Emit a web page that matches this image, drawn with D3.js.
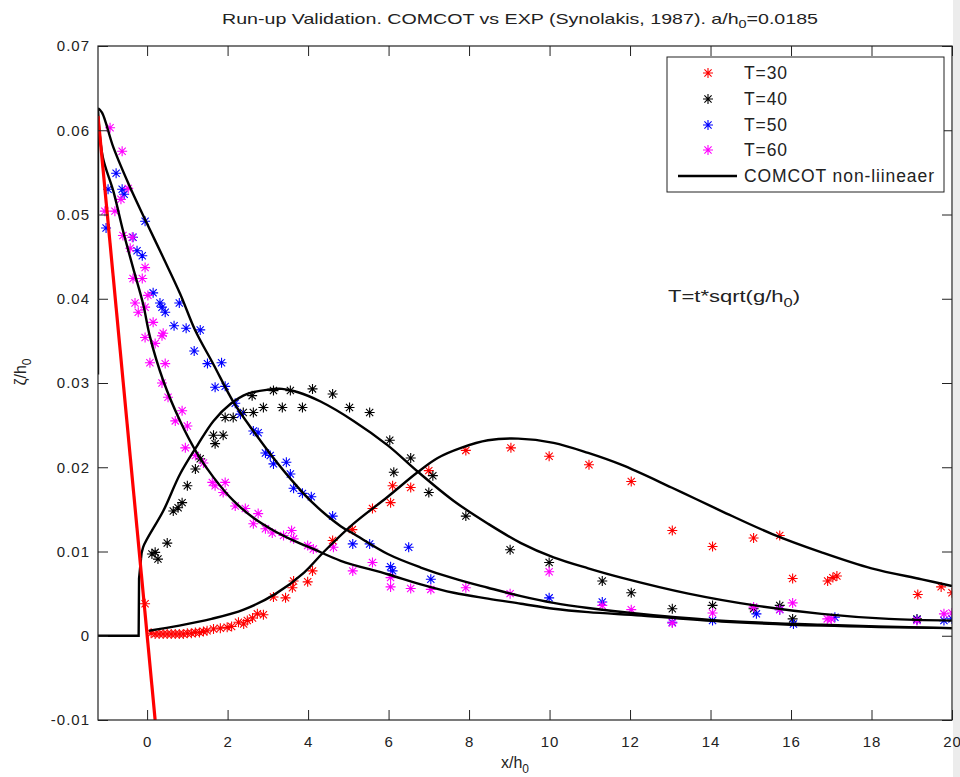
<!DOCTYPE html>
<html>
<head>
<meta charset="utf-8">
<script src="https://cdn.jsdelivr.net/npm/d3@7"></script>
<style>
  body { margin: 0; background: #fff; }
  text { font-family: "Liberation Sans", Arial, sans-serif; fill: #222; }
</style>
</head>
<body>
<svg id="chart" width="960" height="777"></svg>
<script>
// ---- data ----
const xTicks = [0, 2, 4, 6, 8, 10, 12, 14, 16, 18, 20];
const yTicks = [-0.01, 0, 0.01, 0.02, 0.03, 0.04, 0.05, 0.06, 0.07];
const yTickLabels = ["-0.01", "0", "0.01", "0.02", "0.03", "0.04", "0.05", "0.06", "0.07"];
const legendLabels = ["T=30", "T=40", "T=50", "T=60", "COMCOT non-liineaer"];

// experiment (Synolakis 1987)
const expT30 = [[-0.05,0.0038],[0.1,0.0003],[0.2,0.0002],[0.3,0.0002],[0.4,0.0002],[0.5,0.0002],[0.6,0.0002],
  [0.7,0.0002],[0.8,0.0002],[0.9,0.0002],[1.0,0.0003],[1.1,0.0003],[1.2,0.0004],[1.3,0.0004],[1.4,0.0005],
  [1.49,0.0006],[1.65,0.0008],[1.82,0.0009],[1.99,0.001],[2.1,0.0011],[2.27,0.0016],[2.4,0.0014],[2.49,0.0018],
  [2.62,0.0021],[2.74,0.0026],[2.89,0.0025],[3.14,0.0046],[3.44,0.0045],[3.61,0.0057],[3.64,0.0065],[3.99,0.0064],
  [4.11,0.0077],[4.61,0.0113],[5.1,0.0126],[5.6,0.0151],[6.05,0.0158],[6.1,0.0178],[6.55,0.0176],[7.0,0.0196],
  [7.92,0.022],[9.04,0.0223],[9.99,0.0213],[10.98,0.0203],[12.03,0.0183],[13.05,0.0125],[14.05,0.0106],
  [15.07,0.0116],[15.72,0.0119],[16.04,0.0068],[16.91,0.0065],[17.04,0.0069],[17.14,0.0071],[19.15,0.0049],
  [19.73,0.0058],[20.0,0.0051]];
const expT40 = [[0.12,0.0097],[0.2,0.0099],[0.27,0.0091],[0.5,0.011],[0.65,0.0148],[0.77,0.0152],[0.87,0.0158],
  [1.0,0.0178],[1.2,0.0198],[1.32,0.021],[1.65,0.0238],[1.69,0.0228],[1.89,0.0238],[1.94,0.0259],[2.14,0.0259],
  [2.39,0.0265],[2.61,0.0285],[2.64,0.0265],[2.89,0.0271],[3.14,0.0291],[3.36,0.0271],[3.56,0.0291],[3.86,0.0271],
  [4.11,0.0293],[4.61,0.0287],[5.03,0.0271],[5.53,0.0265],[6.03,0.0232],[6.13,0.0194],[6.55,0.0211],[7.0,0.017],
  [7.1,0.019],[7.92,0.0142],[9.02,0.0102],[9.99,0.0087],[11.31,0.0065],[12.03,0.0051],[13.05,0.0032],
  [14.05,0.0036],[15.07,0.0032],[15.72,0.0036],[16.04,0.002],[19.13,0.002]];
const expT50 = [[-1.02,0.0484],[-0.97,0.053],[-0.77,0.0549],[-0.62,0.053],[-0.57,0.0524],[-0.35,0.0473],
  [-0.25,0.0457],[-0.12,0.0451],[-0.05,0.0492],[0.15,0.0407],[0.32,0.0395],[0.37,0.039],[0.45,0.0384],
  [0.67,0.0368],[0.8,0.0395],[0.97,0.0365],[1.17,0.0338],[1.32,0.0363],[1.5,0.0323],[1.85,0.0324],[1.69,0.0295],
  [1.94,0.0296],[2.19,0.0276],[2.32,0.0263],[2.64,0.0243],[2.76,0.0241],[2.94,0.0217],[3.06,0.0214],[3.14,0.0204],
  [3.46,0.0206],[3.56,0.0192],[3.64,0.0175],[3.86,0.0169],[4.08,0.0165],[4.61,0.0142],[5.11,0.0109],[5.53,0.0109],
  [6.05,0.0082],[6.1,0.0077],[6.5,0.0105],[7.05,0.0067],[9.99,0.0045],[11.31,0.004],[13.05,0.0016],[14.05,0.0018],
  [15.14,0.0026],[15.72,0.0031],[16.06,0.0014],[17.09,0.0022],[19.13,0.0019],[19.8,0.0018],[20,0.002]];
const expT60 = [[-1.05,0.0504],[-0.92,0.0603],[-0.8,0.0504],[-0.65,0.0518],[-0.62,0.0575],[-0.6,0.0475],
  [-0.47,0.0531],[-0.42,0.046],[-0.37,0.0473],[-0.35,0.0424],[-0.3,0.0395],[-0.22,0.0384],[-0.12,0.0424],
  [-0.05,0.0437],[-0.05,0.039],[-0.05,0.0354],[0.02,0.0404],[0.15,0.0372],[0.2,0.0347],[0.37,0.0356],[0.4,0.0359],
  [0.07,0.0324],[0.45,0.0323],[0.37,0.03],[0.52,0.0283],[0.7,0.0255],[0.87,0.0267],[1.0,0.0249],[0.95,0.0223],
  [1.2,0.0214],[1.4,0.0205],[1.62,0.0182],[1.69,0.0178],[1.94,0.0182],[1.89,0.017],[2.19,0.0154],[2.44,0.0151],
  [2.76,0.0145],[2.64,0.0133],[2.94,0.0127],[3.11,0.0122],[3.39,0.0119],[3.59,0.0125],[3.64,0.0115],[3.99,0.0107],
  [4.13,0.0103],[4.63,0.0105],[5.11,0.0077],[5.6,0.0087],[6.05,0.0069],[6.05,0.0058],[6.55,0.0056],[7.05,0.0055],
  [7.92,0.0057],[9.02,0.005],[9.99,0.0076],[11.31,0.0036],[12.03,0.0031],[13.05,0.0015],[14.05,0.0027],
  [15.07,0.0034],[15.72,0.0031],[16.04,0.0039],[16.9,0.002],[17.0,0.002],[19.13,0.0018],[19.8,0.0026],[20,0.0027]];

// COMCOT non-linear
const comT30 = [[0.05,0.0006],[0.8,0.0012],[1.6,0.002],[2.4,0.0031],[3.2,0.005],[3.9,0.0075],[4.4,0.01],
  [5.13,0.0133],[5.98,0.0165],[6.72,0.0194],[7.22,0.0211],[7.8,0.0223],[8.47,0.0232],[9.22,0.0234],[10.1,0.0229],
  [10.96,0.0217],[11.78,0.0203],[13.03,0.0176],[14.27,0.0148],[15.52,0.0121],[16.76,0.0099],[18.0,0.008],
  [19.25,0.0067],[20,0.0059]];
const comT40Dry = [[-1.22,0],[-0.21,0],[-0.2,0.0068],[-0.15,0.0092]];
const comT40 = [[-0.15,0.0092],[-0.1,0.0105],[0.4,0.0148],[0.82,0.0192],[1.25,0.0226],[1.65,0.0255],
  [2.07,0.0275],[2.49,0.0287],[2.99,0.0292],[3.35,0.0293],[3.75,0.0289],[4.31,0.0278],[5.13,0.0255],[5.98,0.0226],
  [6.72,0.0195],[7.62,0.016],[8.47,0.0133],[9.29,0.0110],[10.1,0.0093],[10.96,0.008],[11.78,0.0069],[13.45,0.005],
  [15.1,0.0036],[16.76,0.0026],[18.43,0.002],[20,0.0018]];
const comT50 = [[-1.22,0.0626],[-1.12,0.0621],[-0.84,0.058],[-0.42,0.0532],[0,0.0489],[0.4,0.0449],[0.82,0.0406],
  [1.2,0.0362],[1.65,0.0322],[2.15,0.0277],[2.64,0.0243],[3.14,0.0211],[3.64,0.0182],[4.13,0.0157],[4.81,0.013],
  [5.13,0.0121],[5.98,0.0097],[6.8,0.0081],[7.62,0.0068],[8.47,0.0057],[9.29,0.0047],[10.1,0.0039],
  [10.96,0.0033],[12.28,0.0026],[14.27,0.0018],[16.76,0.0013],[20,0.0009]];
const comT60Wall = [[-1.22,0.031],[-1.22,0.0625]];
const comT60 = [[-1.22,0.0622],[-1.1,0.0568],[-0.84,0.0528],[-0.6,0.0481],[-0.35,0.0437],[-0.1,0.0394],[0.07,0.0355],
  [0.4,0.0303],[0.82,0.0255],[1.25,0.0216],[1.65,0.0188],[2.15,0.016],[2.64,0.014],[3.14,0.0125],[3.64,0.0113],
  [4.13,0.0103],[4.81,0.0089],[5.98,0.0073],[6.8,0.0061],[7.62,0.0051],[8.47,0.0044],[9.29,0.0038],[10.1,0.0032],
  [10.96,0.0028],[12.28,0.0024],[14.27,0.0017],[16.76,0.0012],[20,0.0009]];
// beach slope
const bedLine = [[-1.22,0.0617],[0.2,-0.01]];

// ---- drawing ----
const svg = d3.select("#chart");
const mLeft = 98, mRight = 952, mTop = 46, mBottom = 720;

const x = d3.scaleLinear().domain([-1.22, 20]).range([mLeft, mRight]);
const y = d3.scaleLinear().domain([-0.01, 0.07]).range([mBottom, mTop]);

svg.append("rect").attr("x", 953).attr("y", 0).attr("width", 7).attr("height", 777).attr("fill", "#ececec");

const plot = svg.append("g");
plot.append("clipPath").attr("id", "clip")
  .append("rect").attr("x", mLeft).attr("y", mTop).attr("width", mRight - mLeft).attr("height", mBottom - mTop);

// asterisk marker, like matlab '*'
function star(r) {
  const d = r * 0.72;
  return `M${-r},0L${r},0M0,${-r}L0,${r}M${-d},${-d}L${d},${d}M${-d},${d}L${d},${-d}`;
}

const series = [
  {pts: expT30, color: "#ff0000"},
  {pts: expT40, color: "#000000"},
  {pts: expT50, color: "#0000ff"},
  {pts: expT60, color: "#ff00ff"}
];

const inner = plot.append("g").attr("clip-path", "url(#clip)");

series.forEach(function (s) {
  inner.append("g").selectAll("path").data(s.pts).enter().append("path")
    .attr("transform", d => `translate(${x(d[0])},${y(d[1])})`)
    .attr("d", star(5))
    .attr("stroke", s.color).attr("stroke-width", 1.1).attr("fill", "none");
});

const curved = d3.line().x(d => x(d[0])).y(d => y(d[1])).curve(d3.curveCatmullRom.alpha(0.5));
const straight = d3.line().x(d => x(d[0])).y(d => y(d[1]));

[comT30, comT40, comT50, comT60].forEach(function (c) {
  inner.append("path").attr("d", curved(c)).attr("fill", "none")
    .attr("stroke", "#000").attr("stroke-width", 2.4);
});
[comT40Dry, comT60Wall].forEach(function (c) {
  inner.append("path").attr("d", straight(c)).attr("fill", "none")
    .attr("stroke", "#000").attr("stroke-width", 2.4);
});
inner.append("path").attr("d", straight(bedLine)).attr("fill", "none")
  .attr("stroke", "#ff0000").attr("stroke-width", 3.2);

// axes, matlab style inward ticks on every side
const tickLen = 10;
const axBottom = d3.axisBottom(x).tickValues(xTicks).tickSize(-tickLen).tickPadding(16).tickFormat(d3.format("d"));
const axTop = d3.axisTop(x).tickValues(xTicks).tickSize(-tickLen).tickFormat("");
const axLeft = d3.axisLeft(y).tickValues(yTicks).tickSize(-tickLen).tickPadding(8)
  .tickFormat((d, i) => yTickLabels[i]);
const axRight = d3.axisRight(y).tickValues(yTicks).tickSize(-tickLen).tickFormat("");

function styleAxis(g) {
  g.select(".domain").remove();
  g.selectAll("line").attr("stroke", "#222");
  g.selectAll("text").attr("font-size", 15).attr("fill", "#222").attr("letter-spacing", 1)
    .style("font-family", '"Liberation Sans", Arial, sans-serif');
}
plot.append("g").attr("transform", `translate(0,${mBottom})`).call(axBottom).call(styleAxis);
plot.append("g").attr("transform", `translate(0,${mTop})`).call(axTop).call(styleAxis);
plot.append("g").attr("transform", `translate(${mLeft},0)`).call(axLeft).call(styleAxis);
plot.append("g").attr("transform", `translate(${mRight},0)`).call(axRight).call(styleAxis);

plot.append("rect").attr("x", mLeft).attr("y", mTop).attr("width", mRight - mLeft).attr("height", mBottom - mTop)
  .attr("fill", "none").attr("stroke", "#222").attr("stroke-width", 1.2);

// title and labels
const title = svg.append("text").attr("x", 520).attr("y", 24).attr("text-anchor", "middle")
  .attr("font-size", 15).attr("textLength", 596).attr("lengthAdjust", "spacingAndGlyphs");
title.append("tspan").text("Run-up Validation. COMCOT vs EXP (Synolakis, 1987). a/h");
title.append("tspan").attr("font-size", 11).attr("dy", 4).text("0");
title.append("tspan").attr("dy", -4).text("=0.0185");

const xl = svg.append("text").attr("x", 515).attr("y", 768).attr("text-anchor", "middle").attr("font-size", 16);
xl.append("tspan").text("x/h");
xl.append("tspan").attr("font-size", 12).attr("dy", 5).text("0");

const yl = svg.append("text").attr("transform", "translate(26,372) rotate(-90)")
  .attr("text-anchor", "middle").attr("font-size", 16);
yl.append("tspan").text("ζ/h");
yl.append("tspan").attr("font-size", 12).attr("dy", 5).text("0");

const note = svg.append("text").attr("x", 668).attr("y", 302).attr("font-size", 16)
  .attr("textLength", 132).attr("lengthAdjust", "spacingAndGlyphs");
note.append("tspan").text("T=t*sqrt(g/h");
note.append("tspan").attr("font-size", 12).attr("dy", 5).text("0");
note.append("tspan").attr("dy", -5).text(")");

// legend
const lg = svg.append("g");
lg.append("rect").attr("x", 667).attr("y", 57).attr("width", 277).attr("height", 135)
  .attr("fill", "#fff").attr("stroke", "#222").attr("stroke-width", 1);
const rowY = [73, 99, 125, 150, 176];
series.forEach(function (s, i) {
  lg.append("path").attr("transform", `translate(708,${rowY[i]})`).attr("d", star(5))
    .attr("stroke", s.color).attr("stroke-width", 1.1).attr("fill", "none");
});
lg.append("line").attr("x1", 678).attr("x2", 737).attr("y1", rowY[4]).attr("y2", rowY[4])
  .attr("stroke", "#000").attr("stroke-width", 2.4);
legendLabels.forEach(function (t, i) {
  lg.append("text").attr("x", 744).attr("y", rowY[i]).attr("dy", "0.36em")
    .attr("font-size", 17.5).attr("letter-spacing", 0.9).text(t);
});
</script>
</body>
</html>
